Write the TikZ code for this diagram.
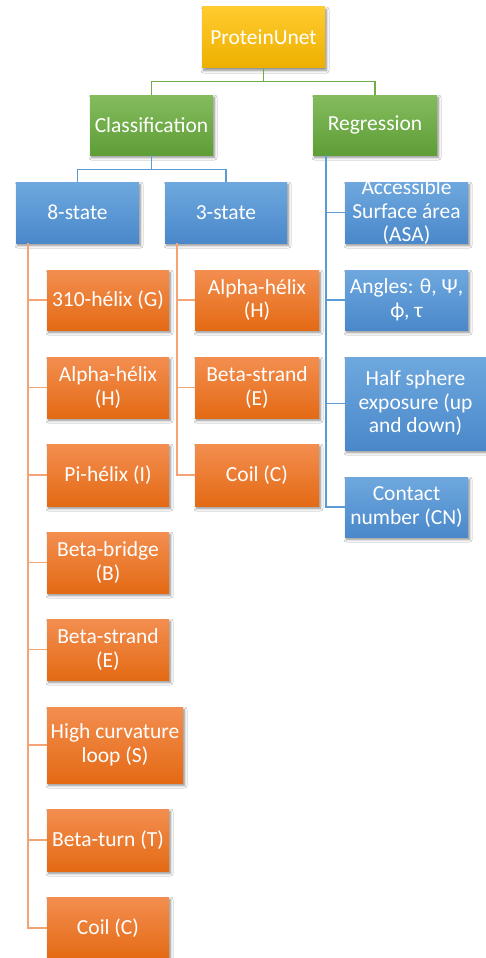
\documentclass[tikz,border=0pt]{standalone}
\usepackage{fontspec}
\setmainfont{Carlito}
\usetikzlibrary{shadows.blur,calc}

% box fills (top / bottom of the gradient) and connector colours
\definecolor{goldT}{HTML}{FFCB2E}
\definecolor{goldB}{HTML}{EDB000}
\definecolor{greenT}{HTML}{84BC5E}
\definecolor{greenB}{HTML}{5E9E36}
\definecolor{blueT}{HTML}{6EA8DE}
\definecolor{blueB}{HTML}{4A88CA}
\definecolor{orangeT}{HTML}{F38E50}
\definecolor{orangeB}{HTML}{E46A14}
\definecolor{greenLine}{HTML}{70AD47}
\definecolor{blueLine}{HTML}{5B9BD5}
\definecolor{orangeLine}{HTML}{F4A474}

\tikzset{
  card/.style={rectangle, inner sep=0pt, minimum width=123pt, minimum height=61pt,
    blur shadow={shadow xshift=1.5pt, shadow yshift=-2.5pt, shadow blur radius=2.5pt,
      shadow blur steps=6, shadow opacity=45}},
  goldcard/.style={card, top color=goldT, bottom color=goldB},
  greencard/.style={card, top color=greenT, bottom color=greenB},
  bluecard/.style={card, top color=blueT, bottom color=blueB},
  orangecard/.style={card, top color=orangeT, bottom color=orangeB},
  lbl/.style={text=white, align=center, inner sep=0pt,
    font=\fontsize{21.5}{23.5}\selectfont},
  link/.style={line width=1.4pt},
}

% \mkcard{name}{style}{cx}{cy}{width}{height}{text}
\newcommand\mkcard[7]{%
  \node[#2, minimum width=#5pt, minimum height=#6pt] (#1) at (#3,#4) {};
  \node[lbl] (#1-txt) at (#1.center) {#7};}

\begin{document}
\begin{tikzpicture}[x=1pt,y=-1pt]
  \fill[white] (0,0) rectangle (486,958);
  \useasboundingbox (0,0) rectangle (486,958);

  % top levels
  \mkcard{root}{goldcard}{263.5}{37.5}{123}{61}{ProteinUnet}
  \mkcard{cls}{greencard}{151.5}{125}{123}{60}{Classification}
  \mkcard{reg}{greencard}{375}{125}{124}{60}{Regression}
  \mkcard{s8}{bluecard}{77.5}{212.5}{123}{61}{8-state}
  \mkcard{s3}{bluecard}{226}{212.5}{122}{61}{3-state}

  % regression outputs
  \mkcard{asa}{bluecard}{406.5}{212.5}{123}{61}{Accessible\\Surface área\\(ASA)}
  \mkcard{ang}{bluecard}{406.5}{300}{123}{60}{Angles: θ, Ψ,\\ϕ, τ}
  \mkcard{hse}{bluecard}{415.5}{403.5}{141}{93}{Half sphere\\exposure (up\\and down)}
  \mkcard{cn}{bluecard}{406.5}{507}{123}{60}{Contact\\number (CN)}

  % 8-state classes
  \mkcard{eG}{orangecard}{108}{300}{122}{60}{310-hélix (G)}
  \mkcard{eH}{orangecard}{108}{387.5}{122}{61}{Alpha-hélix\\(H)}
  \mkcard{eI}{orangecard}{108}{475}{122}{62}{Pi-hélix (I)}
  \mkcard{eB}{orangecard}{108}{562.5}{122}{61}{Beta-bridge\\(B)}
  \mkcard{eE}{orangecard}{108}{649.5}{122}{61}{Beta-strand\\(E)}
  \mkcard{eS}{orangecard}{115}{745}{136}{76}{High curvature\\loop (S)}
  \mkcard{eT}{orangecard}{108}{840}{122}{62}{Beta-turn (T)}
  \mkcard{eC}{orangecard}{108}{928}{122}{62}{Coil (C)}

  % 3-state classes
  \mkcard{tH}{orangecard}{257}{300}{124}{60}{Alpha-hélix\\(H)}
  \mkcard{tE}{orangecard}{257}{387.5}{124}{61}{Beta-strand\\(E)}
  \mkcard{tC}{orangecard}{257}{475}{124}{62}{Coil (C)}

  % trunk start points
  \coordinate (t8) at ($(s8.south west)+(12,0)$);
  \coordinate (t3) at ($(s3.south west)+(12,0)$);
  \coordinate (tr) at ($(reg.south west)+(13,0)$);

  % connectors
  \draw[link, greenLine] (root.south) -- ++(0,13) -| (cls.north);
  \draw[link, greenLine] (root.south) -- ++(0,13) -| (reg.north);
  \draw[link, blueLine] (cls.south) -- ++(0,14) -| (s8.north);
  \draw[link, blueLine] (cls.south) -- ++(0,14) -| (s3.north);

  \foreach \c in {asa,ang,hse,cn}
    \draw[link, blueLine] (tr) |- (\c.west);
  \foreach \c in {eG,eH,eI,eB,eE,eS,eT,eC}
    \draw[link, orangeLine] (t8) |- (\c.west);
  \foreach \c in {tH,tE,tC}
    \draw[link, orangeLine] (t3) |- (\c.west);
\end{tikzpicture}
\end{document}
